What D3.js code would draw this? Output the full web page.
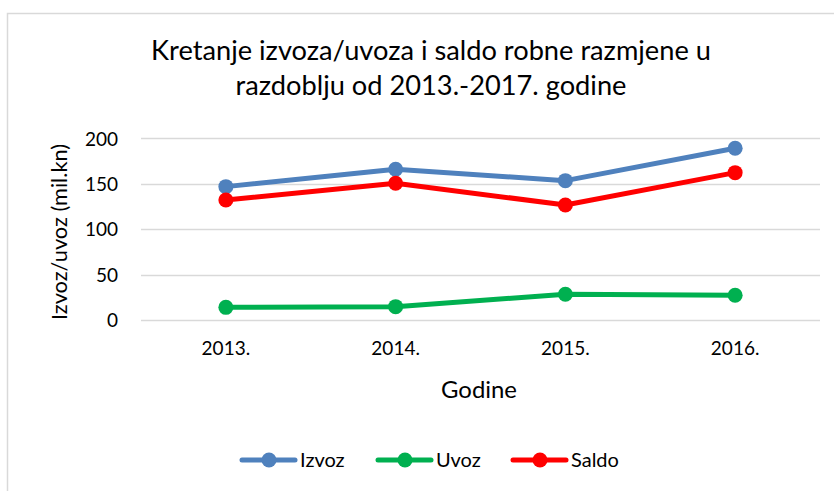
<!DOCTYPE html>
<html><head><meta charset="utf-8">
<script src="https://cdn.jsdelivr.net/npm/d3@7"></script>
<style>body{margin:0;background:#fff}svg{display:block}text{font-family:Lato,"Open Sans",sans-serif;fill:#000}</style>
</head><body><svg id="c" width="834" height="491"></svg>
<script>
const categories = ["2013.", "2014.", "2015.", "2016."];
const izvoz = [146.8, 165.9, 153.4, 189.0];
const uvoz = [13.9, 14.7, 28.3, 27.2];
const saldo = [132.1, 150.5, 126.6, 162.2];
const yTicks = [0, 50, 100, 150, 200];
const seriesNames = ["Izvoz", "Uvoz", "Saldo"];
const seriesColors = ["#4f81bd", "#00b050", "#ff0000"];
const titleLines = ["Kretanje izvoza/uvoza i saldo robne razmjene u", "razdoblju od 2013.-2017. godine"];

const series = [izvoz, uvoz, saldo].map((v, i) => ({name: seriesNames[i], color: seriesColors[i], values: v}));
const svg = d3.select("#c");
svg.append("rect").attr("x", 7.5).attr("y", 13.5).attr("width", 900).attr("height", 600)
  .attr("fill", "none").attr("stroke", "#d9d9d9").attr("stroke-width", 1.5);

// font size that makes a text's width match the target width
function fitSize(node, target) {
  const fs = parseFloat(getComputedStyle(node).fontSize);
  return fs * target / node.getComputedTextLength();
}

const x = d3.scaleBand().domain(categories).range([141, 820]);
const y = d3.scaleLinear().domain([0, 200]).range([320, 138.3]);

svg.append("g").selectAll("line").data(yTicks).join("line")
  .attr("x1", 141).attr("x2", 820).attr("y1", d => Math.round(y(d)) + 0.5).attr("y2", d => Math.round(y(d)) + 0.5)
  .attr("stroke", "#d9d9d9").attr("stroke-width", 1.5);

// y axis
const ya = svg.append("g").attr("transform", "translate(141,0)")
  .call(d3.axisLeft(y).tickValues(yTicks).tickSize(0).tickPadding(23));
ya.select(".domain").remove();
ya.selectAll("text").style("font-size", "19px").attr("dy", "0.36em");

// x axis
const xa = svg.append("g").attr("transform", "translate(0,320)")
  .call(d3.axisBottom(x).tickSize(0).tickPadding(28));
xa.select(".domain").remove();
xa.selectAll("text").style("font-size", "19px").attr("dy", "0.36em");

// chart title
const tt = svg.append("g").selectAll("text").data(titleLines).join("text")
  .attr("x", 431).attr("y", (d, i) => 60 + i * 35).attr("text-anchor", "middle")
  .style("font-size", "25px").text(d => d);
const tFs = fitSize(tt.nodes()[0], 560);
tt.style("font-size", tFs.toFixed(2) + "px");

const gx = svg.append("text").attr("x", 479).attr("y", 398).attr("text-anchor", "middle")
  .style("font-size", "22px").text("Godine");
gx.style("font-size", fitSize(gx.node(), 76).toFixed(2) + "px");
const gy = svg.append("text").attr("transform", "translate(67,232) rotate(-90)").attr("text-anchor", "middle")
  .style("font-size", "19px").text("Izvoz/uvoz (mil.kn)");
gy.style("font-size", fitSize(gy.node(), 176).toFixed(2) + "px");

// lines
const line = d3.line().x((d, i) => x(categories[i]) + x.bandwidth() / 2).y(d => y(d));
const sg = svg.append("g").selectAll("g").data(series).join("g");
sg.append("path").attr("d", d => line(d.values)).attr("fill", "none")
  .attr("stroke", d => d.color).attr("stroke-width", 5).attr("stroke-linejoin", "round").attr("stroke-linecap", "round");
sg.selectAll("circle").data(d => d.values.map(v => ({v, c: d.color}))).join("circle")
  .attr("cx", (d, i) => x(categories[i]) + x.bandwidth() / 2).attr("cy", d => y(d.v))
  .attr("r", 7.5).attr("fill", d => d.c);

// legend
const legX = [242, 378, 513];
const lg = svg.append("g").selectAll("g").data(series).join("g")
  .attr("transform", (d, i) => `translate(${legX[i]},460)`);
lg.append("line").attr("x1", 0).attr("x2", 53).attr("stroke", d => d.color).attr("stroke-width", 5).attr("stroke-linecap", "round");
lg.append("circle").attr("cx", 27).attr("r", 7.5).attr("fill", d => d.color);
lg.append("text").attr("x", 58).attr("dy", "0.36em").style("font-size", "20px").text(d => d.name);
</script></body></html>
